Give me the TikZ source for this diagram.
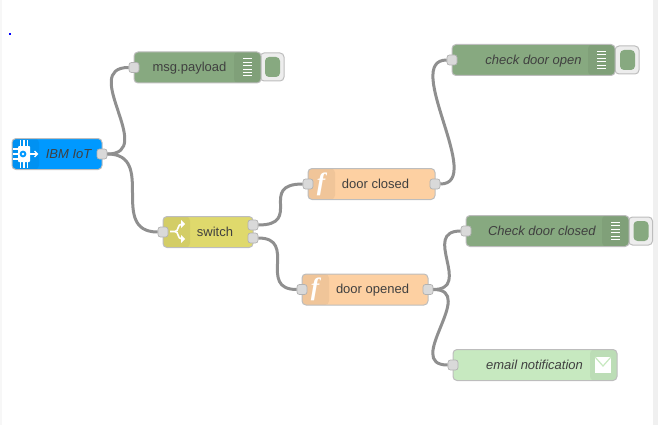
\documentclass[tikz,border=0pt]{standalone}
\usepackage{fontspec}
\setmainfont{Liberation Sans}
\newfontfamily\glyphfont{Liberation Serif}
\definecolor{debugc}{HTML}{87A980}
\definecolor{injectc}{HTML}{0099FF}
\definecolor{switchc}{HTML}{DFD96C}
\definecolor{funcc}{HTML}{FDD0A2}
\definecolor{mailc}{HTML}{C7E9C0}
\definecolor{edgec}{HTML}{BDBDBD}
\definecolor{wirec}{HTML}{8F8F8F}
\definecolor{portc}{HTML}{D9D9D9}
\tikzset{
  flow/.style={draw=edgec,line width=1pt,rounded corners=4pt,minimum height=31pt,
    inner sep=0pt,text=black!75,font=\fontsize{13}{15}\selectfont,text height=10pt,text depth=1.5pt},
  bandleft/.style={path picture={\fill[black,opacity=0.05]
    (path picture bounding box.north west) rectangle
    ([xshift=27pt]path picture bounding box.south west);}},
  bandright/.style={path picture={\fill[black,opacity=0.05]
    (path picture bounding box.north east) rectangle
    ([xshift=-27pt]path picture bounding box.south east);}},
  port/.style={draw=black!30,fill=portc,line width=0.7pt,rounded corners=2.5pt,
    minimum size=10pt,inner sep=0pt},
  wire/.style={draw=wirec,line width=3pt},
  btnout/.style={draw=edgec,fill=black!7,line width=1pt,rounded corners=4pt,
    minimum width=24pt,minimum height=28pt,inner sep=0pt},
  btnin/.style={fill=debugc,rounded corners=4pt,minimum width=15pt,minimum height=20pt,inner sep=0pt},
  fglyph/.style={text=white,inner sep=0pt,font=\glyphfont\bfseries\itshape\fontsize{25}{25}\selectfont},
  iconline/.style={draw=white,line width=1pt}
}
\begin{document}
\begin{tikzpicture}[x=1pt,y=-1pt]
  \useasboundingbox (0,0) rectangle (658,425);
  \fill[black!3] (0,0) rectangle (1.5,425);
  \fill[black!6] (653,0) rectangle (658,425);
  \fill[blue] (8.5,33.5) rectangle (10.5,35.5);

  % buttons sit behind the nodes
  \node[btnout] (payloadbtn) at (272,67) {};
  \node[btnin] (payloadtog) at (272.5,67) {};
  \node[btnout] (openbtn) at (627,60) {};
  \node[btnin] (opentog) at (627.5,60) {};
  \node[btnout] (closedbtn) at (640.5,231) {};
  \node[btnin] (closedtog) at (641,231) {};

  \node[flow,bandright,fill=debugc,minimum width=127pt] (payload) at (197.5,67.5) {\hspace{-16pt}msg.payload};
  \node[flow,bandleft,fill=injectc,minimum width=90pt] (iot) at (57,154) {\hspace{24pt}\textit{IBM IoT}};
  \node[flow,bandleft,fill=switchc,minimum width=90pt] (switch) at (208,232) {\hspace{14pt}switch};
  \node[flow,bandleft,fill=funcc,minimum width=127pt] (closed) at (371.5,184) {\hspace{8pt}door closed};
  \node[flow,bandleft,fill=funcc,minimum width=126pt] (opened) at (365,289.5) {\hspace{15pt}door opened};
  \node[flow,bandright,fill=debugc,minimum width=163pt] (chkopen) at (533.5,60) {\textit{check door open}};
  \node[flow,bandright,fill=debugc,minimum width=163pt] (chkclosed) at (547.5,231) {\hspace{-11pt}\textit{Check door closed}};
  \node[flow,bandright,fill=mailc,minimum width=164pt] (mail) at (535,365) {\hspace{-1pt}\textit{email notification}};

  % ports
  \node[port] (payloadin) at (134,67.5) {};
  \node[port] (iotout) at (102,154) {};
  \node[port] (switchin) at (163,232) {};
  \node[port] (switchouta) at (253,225) {};
  \node[port] (switchoutb) at (253,238) {};
  \node[port] (closedin) at (308,184) {};
  \node[port] (closedout) at (435,184) {};
  \node[port] (openedin) at (302,289.5) {};
  \node[port] (openedout) at (428,289.5) {};
  \node[port] (chkopenin) at (452,60) {};
  \node[port] (chkclosedin) at (466,231) {};
  \node[port] (mailin) at (453,365) {};

  % wires
  \begin{scope}[wire]
    \draw (iotout.east) .. controls +(50,0) and +(-50,0) .. (payloadin.west);
    \draw (iotout.east) .. controls +(50,0) and +(-50,0) .. (switchin.west);
    \draw (switchouta.east) .. controls +(45,0) and +(-45,0) .. (closedin.west);
    \draw (switchoutb.east) .. controls +(40,0) and +(-40,0) .. (openedin.west);
    \draw (closedout.east) .. controls +(45,0) and +(-45,0) .. (chkopenin.west);
    \draw (openedout.east) .. controls +(40,0) and +(-40,0) .. (chkclosedin.west);
    \draw (openedout.east) .. controls +(45,0) and +(-45,0) .. (mailin.west);
  \end{scope}

  % debug icons
  \foreach \cx/\cy in {247.5/67.5,601.5/60,615.5/231}{
    \foreach \dy in {-8.5,-5.1,-1.7,1.7,5.1,8.5}
      \draw[iconline] (\cx-4.5,\cy+\dy) -- (\cx+4.5,\cy+\dy);
  }

  % function icons
  \node[fglyph] (fclosed) at (321,184) {f};
  \node[fglyph] (fopened) at (315,289.5) {f};

  % switch icon
  \draw[white,line width=1.6pt] (170,231.5) -- (175,231.5)
    .. controls (179,231.5) and (177,224) .. (182,224);
  \draw[white,line width=1.6pt] (175,231.5)
    .. controls (179,231.5) and (177,239) .. (182,239);
  \fill[white] (181,220) -- (185,224) -- (181,228) -- cycle;
  \fill[white] (181,235) -- (185,239) -- (181,243) -- cycle;

  % chip icon
  \fill[white,rounded corners=1pt] (18,146) rectangle (30,162);
  \foreach \px in {20.5,24,27.5}{
    \draw[white,line width=1.2pt] (\px,140) -- (\px,146);
    \draw[white,line width=1.2pt] (\px,162) -- (\px,168);
  }
  \foreach \py in {149,154,159}
    \draw[white,line width=1.2pt] (13,\py) -- (18,\py);
  \fill[injectc] (23,154) circle (3.4pt);
  \fill[white] (23,154) circle (1.3pt);
  \draw[white,line width=1.2pt] (30,154) -- (37,154);
  \draw[white,line width=1.2pt] (34.5,151) -- (37.5,154) -- (34.5,157);

  % mail icon
  \fill[white] (595,357) rectangle (611,373);
  \draw[mailc,line width=1.2pt] (595,357) -- (603,366) -- (611,357);
\end{tikzpicture}
\end{document}
